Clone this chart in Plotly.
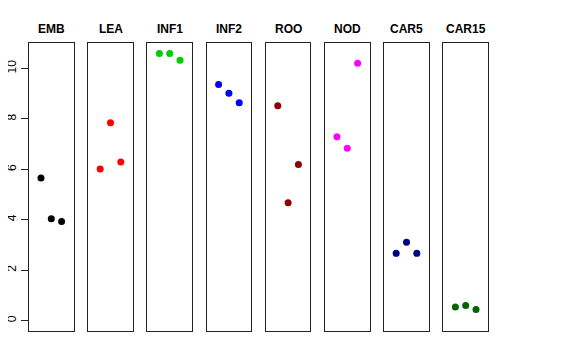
import plotly.graph_objects as go

categories = ["EMB", "LEA", "INF1", "INF2", "ROO", "NOD", "CAR5", "CAR15"]
replicates = [1, 2, 3]
values = {
    "EMB": [5.66, 4.04, 3.93],
    "LEA": [6.01, 7.85, 6.29],
    "INF1": [10.60, 10.60, 10.33],
    "INF2": [9.37, 9.02, 8.64],
    "ROO": [8.52, 4.68, 6.19],
    "NOD": [7.29, 6.84, 10.21],
    "CAR5": [2.67, 3.11, 2.67],
    "CAR15": [0.54, 0.60, 0.44],
}
colors = ["#000000", "#FF0000", "#00CD00", "#0000FF", "#8B0000", "#FF00FF", "#00008B", "#006400"]
y_ticks = [0, 2, 4, 6, 8, 10]

W, H = 576, 360
OFF = 8.0  # page body margin offset
left0, pitch, pw = 29.0 - OFF, 59.2, 44.6
top_px, bot_px = 43.3 - OFF, 331.0 - OFF
title_px = 29.0 - OFF
ydom = [1 - bot_px / H, 1 - top_px / H]

fig = go.Figure()
layout = dict(
    width=W, height=H, margin=dict(l=0, r=0, t=0, b=0, autoexpand=False),
    paper_bgcolor="white", plot_bgcolor="white", showlegend=False,
    font=dict(family="Liberation Sans, Arial, sans-serif", color="black", size=12),
)
annotations = []
for i, cat in enumerate(categories):
    n = "" if i == 0 else str(i + 1)
    x0 = (left0 + i * pitch) / W
    x1 = (left0 + i * pitch + pw) / W
    fig.add_trace(go.Scatter(
        x=replicates, y=values[cat], mode="markers",
        marker=dict(color=colors[i], size=7),
        xaxis="x" + n, yaxis="y" + n,
    ))
    layout["xaxis" + n] = dict(
        domain=[x0, x1], range=[-0.16, 4.16], showgrid=False, zeroline=False,
        showticklabels=False, ticks="", showline=True, mirror=True,
        linecolor="#222", linewidth=1, anchor="y" + n, fixedrange=True,
        automargin=False,
    )
    ya = dict(
        domain=ydom, range=[-0.41, 11.0], showgrid=False, zeroline=False,
        showline=True, mirror=True, linecolor="#222", linewidth=1,
        anchor="x" + n, fixedrange=True, automargin=False,
    )
    if i == 0:
        ya.update(tickvals=y_ticks, ticks="outside", ticklen=7, tickcolor="#222",
                  tickangle=-90, tickfont=dict(size=12))
    else:
        ya.update(showticklabels=False, ticks="")
    layout["yaxis" + n] = ya
    annotations.append(dict(
        text="<b>" + cat + "</b>", x=(x0 + x1) / 2, y=1 - title_px / H,
        xref="paper", yref="paper", showarrow=False,
        font=dict(size=12, color="black"), xanchor="center", yanchor="middle",
    ))
layout["annotations"] = annotations
fig.update_layout(**layout)
fig.write_html("out.html")
